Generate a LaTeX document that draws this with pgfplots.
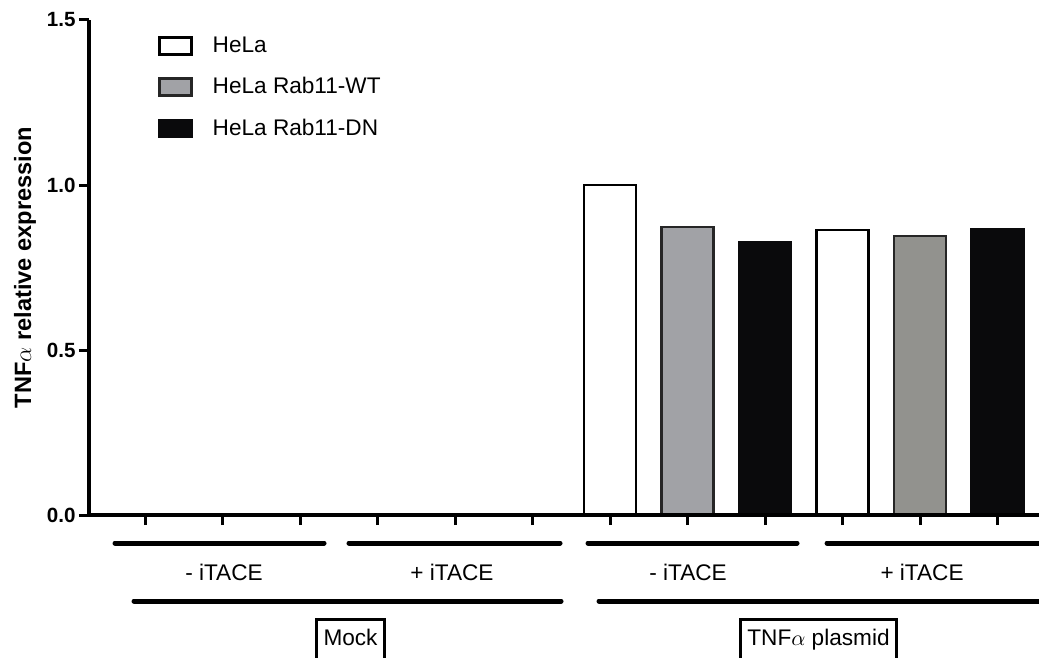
\documentclass[border=0pt]{standalone}
\usepackage{pgfplots}
\pgfplotsset{compat=1.18}
\usepackage{fontspec}
\setmainfont{Liberation Sans}
\definecolor{wtA}{RGB}{161,162,166}
\definecolor{wtB}{RGB}{146,146,142}
\definecolor{dn}{RGB}{10,10,12}
\begin{document}
\begin{tikzpicture}
\begin{axis}[
  x=38.75pt, y=165pt,
  xmin=0.277, xmax=12.54, ymin=0, ymax=1.5,
  axis lines=left, axis line style={line width=2pt, -},
  axis on top,
  clip=false,
  xtick={1,...,12}, xticklabels={},
  ytick={0,0.5,1.0,1.5},
  tick align=outside,
  major tick length=5pt,
  every tick/.style={black, line width=1.5pt},
  /pgf/number format/.cd, fixed, fixed zerofill, precision=1, assume math mode=true,
  /pgfplots/.cd,
  yticklabel style={font=\bfseries\fontsize{10.3}{12}\selectfont, inner sep=1.5pt},
  ylabel={TNF$\alpha$ relative expression},
  every axis y label/.style={at={(axis cs:-0.548,0.75)}, rotate=90, anchor=center, font=\bfseries\fontsize{11.8}{13}\selectfont},
  legend style={at={(axis cs:1.168,1.462)}, anchor=north west, draw=none, fill=none,
    font=\fontsize{11.3}{13}\selectfont, row sep=7pt, inner sep=0pt},
  legend cell align=left,
  mylegend/.style={legend image code/.code={\draw[##1, line width=1.3pt] (0pt,-4.25pt) rectangle (16pt,4.25pt); \path[draw=none, fill=none] (16pt,-1pt) rectangle (24.5pt,1pt);}},
]
\addplot[ybar, bar width=0.67, bar shift=0pt, draw=black, fill=white, line width=1.3pt, mylegend]
  coordinates {(1,0) (4,0) (7,1.0) (10,0.864)};
\addlegendentry{HeLa}
\addplot[ybar, bar width=0.67, bar shift=0pt, draw=black!85, fill=wtA, line width=1.3pt, mylegend]
  coordinates {(2,0) (5,0) (8,0.873)};
\addlegendentry{HeLa Rab11-WT}
\addplot[ybar, bar width=0.67, bar shift=0pt, draw=dn, fill=dn, line width=1.3pt, mylegend]
  coordinates {(3,0) (6,0) (9,0.827) (12,0.867)};
\addlegendentry{HeLa Rab11-DN}
\addplot[ybar, bar width=0.67, bar shift=0pt, draw=black!85, fill=wtB, line width=1.3pt, forget plot]
  coordinates {(11,0.845)};

% group brackets
\draw[line width=2.5pt, line cap=round] (axis cs:0.613,-0.0848) -- (axis cs:3.310,-0.0848);
\draw[line width=2.5pt, line cap=round] (axis cs:3.632,-0.0848) -- (axis cs:6.355,-0.0848);
\draw[line width=2.5pt, line cap=round] (axis cs:6.716,-0.0848) -- (axis cs:9.413,-0.0848);
\draw[line width=2.5pt, line cap=round] (axis cs:9.800,-0.0848) -- (axis cs:12.60,-0.0848);
\node[font=\fontsize{11.3}{13}\selectfont] at (axis cs:2.019,-0.173) {- iTACE};
\node[font=\fontsize{11.3}{13}\selectfont] at (axis cs:4.961,-0.173) {+ iTACE};
\node[font=\fontsize{11.3}{13}\selectfont] at (axis cs:8.006,-0.173) {- iTACE};
\node[font=\fontsize{11.3}{13}\selectfont] at (axis cs:11.026,-0.173) {+ iTACE};
\draw[line width=2.5pt, line cap=round] (axis cs:0.858,-0.2606) -- (axis cs:6.368,-0.2606);
\draw[line width=2.5pt, line cap=round] (axis cs:6.858,-0.2606) -- (axis cs:12.60,-0.2606);
\node[draw, line width=1.5pt, anchor=north, font=\fontsize{11.3}{13}\selectfont, inner xsep=3.5pt, inner ysep=5pt, text height=8pt, text depth=15pt] at (axis cs:3.652,-0.312) {Mock};
\node[draw, line width=1.5pt, anchor=north, font=\fontsize{11.3}{13}\selectfont, inner xsep=3.5pt, inner ysep=5pt, text height=8pt, text depth=15pt] at (axis cs:9.690,-0.312) {TNF$\alpha$ plasmid};

\coordinate (BL) at (axis cs:-0.871,-0.4303);
\coordinate (TR) at (axis cs:12.535,1.5606);
\end{axis}
\pgfresetboundingbox
\useasboundingbox (BL) rectangle (TR);
\end{tikzpicture}
\end{document}
